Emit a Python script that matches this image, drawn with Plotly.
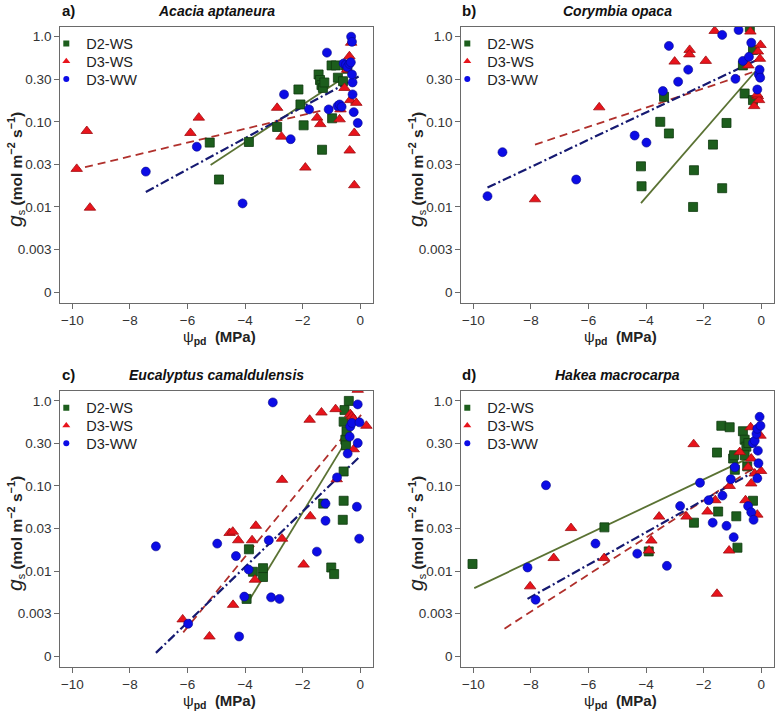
import plotly.graph_objects as go

# ---- data (x = psi_pd in MPa, y = gs in mol m-2 s-1) ----
# a) Acacia aptaneura
a_d2ws_x = [-5.23, -4.91, -3.87, -2.89, -2.15, -2.08, -1.97, -1.45, -1.40, -1.35, -1.30, -1.25,
            -1.33, -1.00, -0.98, -0.85, -0.78, -0.60, -0.50, -0.45]
a_d2ws_y = [0.057, 0.021, 0.058, 0.087, 0.24, 0.16, 0.091, 0.36, 0.31, 0.27, 0.25, 0.29,
            0.047, 0.46, 0.11, 0.46, 0.33, 0.30, 0.46, 0.42]
a_d3ws_x = [-9.85, -9.50, -9.39, -5.90, -5.61, -2.89, -2.74, -1.91, -1.50, -1.39, -0.72, -0.69,
            -0.55, -0.46, -0.38, -0.32, -0.37, -0.35, -0.21, -0.21, -0.14]
a_d3ws_y = [0.028, 0.078, 0.0098, 0.074, 0.112, 0.146, 0.067, 0.029, 0.112, 0.094, 0.107, 0.14,
            0.25, 0.41, 0.59, 0.85, 0.046, 0.18, 0.074, 0.018, 0.167]
a_d3ww_x = [-7.45, -5.68, -4.09, -2.65, -2.42, -1.78, -1.16, -1.10, -0.79, -0.72, -0.65, -0.58,
            -0.50, -0.45, -0.38, -0.33, -0.32, -0.29, -0.27, -0.27, -0.23, -0.09, -0.29]
a_d3ww_y = [0.026, 0.051, 0.011, 0.21, 0.0625, 0.14, 0.65, 0.14, 0.153, 0.16, 0.15, 0.485,
            0.47, 0.44, 0.48, 0.50, 1.0, 0.87, 0.29, 0.21, 0.13, 0.097, 0.36]
a_fit_d2ws_x, a_fit_d2ws_y = [-5.20, -0.58], [0.031, 0.33]
a_fit_d3ws_x, a_fit_d3ws_y = [-10.0, -0.15], [0.027, 0.17]
a_fit_d3ww_x, a_fit_d3ww_y = [-7.45, -0.06], [0.015, 0.34]

# b) Corymbia opaca
b_d2ws_x = [-4.18, -4.16, -3.51, -3.21, -3.38, -2.37, -2.34, -1.68, -1.36, -1.21, -0.64, -0.58,
            -0.40, -0.29, -0.29]
b_d2ws_y = [0.030, 0.0175, 0.10, 0.073, 0.197, 0.010, 0.027, 0.054, 0.0166, 0.097, 0.46, 0.215,
            1.29, 0.18, 0.70]
b_d3ws_x = [-7.86, -5.63, -3.01, -2.49, -2.50, -1.93, -1.62, -0.38, -0.25, -0.12, -0.08, -0.05,
            -0.03, -0.12, -0.15, -0.45]
b_d3ws_y = [0.0123, 0.148, 0.51, 0.70, 0.62, 0.52, 1.17, 1.15, 0.153, 0.20, 0.18, 0.55, 0.80,
            0.67, 0.21, 0.46]
b_d3ww_x = [-9.51, -8.99, -6.43, -4.40, -3.99, -3.42, -3.21, -2.89, -2.54, -1.36, -0.79, -0.90,
            -0.64, -0.43, -0.35, -0.14, -0.09, -0.06, -0.04]
b_d3ww_y = [0.0134, 0.044, 0.021, 0.069, 0.057, 0.23, 0.78, 0.296, 0.41, 1.05, 1.2, 0.32,
            0.52, 0.58, 0.85, 0.24, 0.36, 0.41, 0.33]
b_fit_d2ws_x, b_fit_d2ws_y = [-4.18, -0.21], [0.0111, 0.39]
b_fit_d3ws_x, b_fit_d3ws_y = [-7.86, -0.14], [0.054, 0.40]
b_fit_d3ww_x, b_fit_d3ww_y = [-9.51, -0.17], [0.0169, 0.53]

# c) Eucalyptus camaldulensis
c_d2ws_x = [-3.95, -3.87, -3.73, -3.38, -3.38, -1.29, -1.01, -0.91, -0.61, -0.58, -0.58, -0.58,
            -0.52, -0.40, -0.50, -0.48, -0.55]
c_d2ws_y = [0.0047, 0.018, 0.0098, 0.0108, 0.0085, 0.062, 0.011, 0.0092, 0.040, 0.067, 0.148,
            0.57, 0.35, 1.0, 0.30, 0.44, 0.78]
c_d3ws_x = [-6.17, -5.24, -4.54, -4.43, -4.42, -4.24, -3.76, -3.63, -3.66, -2.72, -2.72, -1.97,
            -1.76, -1.74, -1.35, -0.86, -0.82, -0.35, -0.30, -0.24, -0.23, -0.09, 0.21]
c_d3ws_y = [0.0027, 0.0017, 0.028, 0.029, 0.004, 0.023, 0.023, 0.034, 0.0079, 0.118, 0.024,
            0.0119, 0.60, 0.044, 0.73, 0.80, 0.12, 0.70, 0.66, 0.62, 0.27, 1.35, 0.51]
c_d3ww_x = [-7.10, -5.98, -4.97, -4.32, -4.21, -4.03, -3.88, -3.18, -3.10, -3.04, -2.81, -1.51,
            -1.21, -1.21, -0.81, -0.44, -0.37, -0.35, -0.29, -0.12, -0.09, -0.09, -0.03, -0.04]
c_d3ww_y = [0.0195, 0.0024, 0.021, 0.015, 0.0017, 0.005, 0.0104, 0.023, 0.0049, 0.96, 0.0047,
            0.0169, 0.062, 0.039, 0.126, 0.24, 0.38, 0.50, 0.55, 0.057, 0.32, 0.91, 0.56, 0.024]
c_fit_d2ws_x, c_fit_d2ws_y = [-3.90, -0.40], [0.0043, 0.38]
c_fit_d3ws_x, c_fit_d3ws_y = [-6.15, 0.12], [0.0019, 0.75]
c_fit_d3ww_x, c_fit_d3ww_y = [-7.10, -0.02], [0.00109, 0.222]

# d) Hakea macrocarpa
d_d2ws_x = [-10.03, -5.45, -3.91, -2.34, -1.50, -1.54, -1.39, -1.10, -0.98, -0.95, -0.92, -0.87,
            -0.83, -0.64, -0.58, -0.52, -0.49, -0.45, -0.29, -0.58]
d_d2ws_y = [0.0121, 0.0326, 0.017, 0.037, 0.050, 0.247, 0.51, 0.49, 0.21, 0.23, 0.155, 0.044,
            0.0188, 0.44, 0.35, 0.29, 0.17, 0.32, 0.067, 0.23]
d_d3ws_x = [-8.03, -7.21, -6.61, -5.46, -3.90, -3.82, -3.55, -2.60, -2.35, -1.87, -1.60, -1.54,
            -1.12, -1.10, -0.75, -0.55, -0.46, -0.35, -0.37, -0.23, -0.14, -0.03, -0.01, -0.35]
d_d3ws_y = [0.0066, 0.0142, 0.032, 0.0142, 0.0174, 0.0228, 0.0436, 0.0436, 0.31, 0.050, 0.068,
            0.0054, 0.0174, 0.10, 0.25, 0.068, 0.166, 0.107, 0.49, 0.14, 0.046, 0.39, 0.15, 0.21]
d_d3ww_x = [-8.12, -7.84, -7.48, -5.76, -4.31, -3.28, -2.82, -2.13, -1.83, -1.69, -1.35, -1.21,
            -1.06, -0.92, -0.96, -0.46, -0.35, -0.27, -0.29, -0.23, -0.17, -0.14, -0.06, -0.03,
            -0.12, -0.10, -0.14]
d_d3ww_y = [0.011, 0.0046, 0.102, 0.021, 0.016, 0.0115, 0.058, 0.109, 0.068, 0.037, 0.077, 0.034,
            0.12, 0.166, 0.025, 0.058, 0.049, 0.040, 0.32, 0.34, 0.41, 0.47, 0.65, 0.51, 0.26,
            0.185, 0.123]
d_fit_d2ws_x, d_fit_d2ws_y = [-9.97, -0.35], [0.0063, 0.22]
d_fit_d3ws_x, d_fit_d3ws_y = [-8.92, -0.35], [0.0021, 0.155]
d_fit_d3ww_x, d_fit_d3ww_y = [-8.12, -0.35], [0.0047, 0.141]

panel_letters = ["a)", "b)", "c)", "d)"]
species = ["Acacia aptaneura", "Corymbia opaca", "Eucalyptus camaldulensis", "Hakea macrocarpa"]
series_names = ["D2-WS", "D3-WS", "D3-WW"]
y_tickvals = [1.0, 0.316, 0.1, 0.0316, 0.01, 0.00316, 0.001]
y_ticktext = ["1.0", "0.30", "0.10", "0.03", "0.01", "0.003", "0"]
x_tickvals = [-10, -8, -6, -4, -2, 0]

panels = [
    ((a_d2ws_x, a_d2ws_y), (a_d3ws_x, a_d3ws_y), (a_d3ww_x, a_d3ww_y),
     (a_fit_d2ws_x, a_fit_d2ws_y), (a_fit_d3ws_x, a_fit_d3ws_y), (a_fit_d3ww_x, a_fit_d3ww_y)),
    ((b_d2ws_x, b_d2ws_y), (b_d3ws_x, b_d3ws_y), (b_d3ww_x, b_d3ww_y),
     (b_fit_d2ws_x, b_fit_d2ws_y), (b_fit_d3ws_x, b_fit_d3ws_y), (b_fit_d3ww_x, b_fit_d3ww_y)),
    ((c_d2ws_x, c_d2ws_y), (c_d3ws_x, c_d3ws_y), (c_d3ww_x, c_d3ww_y),
     (c_fit_d2ws_x, c_fit_d2ws_y), (c_fit_d3ws_x, c_fit_d3ws_y), (c_fit_d3ww_x, c_fit_d3ww_y)),
    ((d_d2ws_x, d_d2ws_y), (d_d3ws_x, d_d3ws_y), (d_d3ww_x, d_d3ww_y),
     (d_fit_d2ws_x, d_fit_d2ws_y), (d_fit_d3ws_x, d_fit_d3ws_y), (d_fit_d3ww_x, d_fit_d3ww_y)),
]

W, H = 777, 716
FONT = "Arial, Liberation Sans, sans-serif"


def fx(px):
    return px / W


def fy(py):
    return 1 - py / H


# pixel boxes of the four plot areas (left, right, top, bottom)
boxes = [(60.3, 373.3, 26.5, 302.7), (461.3, 774.3, 26.5, 302.7),
         (60.3, 373.3, 390.7, 666.7), (461.3, 774.3, 390.7, 666.7)]

markers = [
    dict(symbol="square", color="#1d5e1d", size=9, line=dict(color="#0f3a0f", width=0.8)),
    dict(symbol="triangle-up", color="#e8141c", size=10, line=dict(color="#a00c10", width=0.8)),
    dict(symbol="circle", color="#0c0ce6", size=9, line=dict(color="#06068a", width=0.6)),
]
legend_markers = [
    dict(symbol="square", color="#1d5e1d", size=6),
    dict(symbol="triangle-up", color="#e8141c", size=7),
    dict(symbol="circle", color="#0c0ce6", size=6),
]
fit_lines = [
    dict(color="#5a7233", width=1.8, dash="solid"),
    dict(color="#b0302c", width=1.8, dash="8px,5px"),
    dict(color="#161a72", width=2.2, dash="9px,3px,2px,3px"),
]

fig = go.Figure()
layout = dict(width=W, height=H, margin=dict(l=0, r=0, t=0, b=0, autoexpand=False),
              paper_bgcolor="white", plot_bgcolor="white", showlegend=True,
              font=dict(family=FONT, color="#333"))
annotations = []
leg_count = 0

for i, (box, data) in enumerate(zip(boxes, panels)):
    n = "" if i == 0 else str(i + 1)
    xa, ya = "x" + n, "y" + n
    l, r, t, b = box
    # fit lines first, points on top
    for k in range(3):
        lx, ly = data[3 + k]
        fig.add_trace(go.Scatter(x=lx, y=ly, mode="lines", line=fit_lines[k],
                                 showlegend=False, xaxis=xa, yaxis=ya, hoverinfo="skip"))
    for k in range(3):
        px_, py_ = data[k]
        fig.add_trace(go.Scatter(x=px_, y=py_, mode="markers", marker=markers[k],
                                 name=series_names[k], showlegend=False, xaxis=xa, yaxis=ya))
    # one legend per entry so the rows sit as tight as in the reference
    for k in range(3):
        leg_count += 1
        leg = "legend" if leg_count == 1 else "legend%d" % leg_count
        fig.add_trace(go.Scatter(x=[None], y=[None], mode="markers", marker=legend_markers[k],
                                 name=series_names[k], legend=leg, xaxis=xa, yaxis=ya))
        layout[leg] = dict(x=fx(l - 14), y=fy(t + 17 + 17.8 * k), xanchor="left",
                           yanchor="middle", bgcolor="rgba(0,0,0,0)",
                           font=dict(family=FONT, size=14.5, color="#222"),
                           itemwidth=30, borderwidth=0)

    axis_common = dict(showline=True, mirror=True, linecolor="#6a6a6a", linewidth=1.3,
                       ticks="outside", ticklen=5, tickcolor="#6a6a6a", showgrid=False,
                       zeroline=False, automargin=False,
                       tickfont=dict(family=FONT, size=13.5, color="#333"))
    layout["xaxis" + n] = dict(axis_common, domain=[fx(l), fx(r)], range=[-10.42, 0.45],
                               tickvals=x_tickvals, anchor=ya)
    layout["yaxis" + n] = dict(axis_common, domain=[fy(b), fy(t)], type="log",
                               range=[-3.125, 0.12], tickvals=y_tickvals,
                               ticktext=y_ticktext, anchor=xa)

    cx = (l + r) / 2
    annotations.append(dict(text="<b>" + panel_letters[i] + "</b>", x=fx(l + 8),
                            y=fy(t - 16), xref="paper", yref="paper", showarrow=False,
                            font=dict(family=FONT, size=15, color="#111"), xanchor="center",
                            yanchor="middle"))
    annotations.append(dict(text="<b><i>" + species[i] + "</i></b>", x=fx(cx),
                            y=fy(t - 16), xref="paper", yref="paper", showarrow=False,
                            font=dict(family=FONT, size=14, color="#111"), xanchor="center",
                            yanchor="middle"))
    annotations.append(dict(text="\u03c8<sub><b>pd</b></sub>  <b>(MPa)</b>", x=fx(cx + 3),
                            y=fy(b + 35), xref="paper", yref="paper", showarrow=False,
                            font=dict(family=FONT, size=15, color="#222"), xanchor="center",
                            yanchor="middle"))
    annotations.append(dict(text="<span style='font-size:21px'><i>g</i></span><sub>s</sub> "
                                 "<b>(mol m<sup>\u22122</sup> s<sup>\u22121</sup>)</b>",
                            x=fx(l - 46), y=fy((t + b) / 2 + 5), xref="paper",
                            yref="paper", showarrow=False, textangle=-90,
                            font=dict(family=FONT, size=15.5, color="#222"), xanchor="center",
                            yanchor="middle"))

layout["annotations"] = annotations
fig.update_layout(**layout)

# the page body keeps a default 8px margin; drop it so the figure fills the window
fig.write_html("out.html", config={"displayModeBar": False},
               post_script="document.body.style.margin = '0';")
